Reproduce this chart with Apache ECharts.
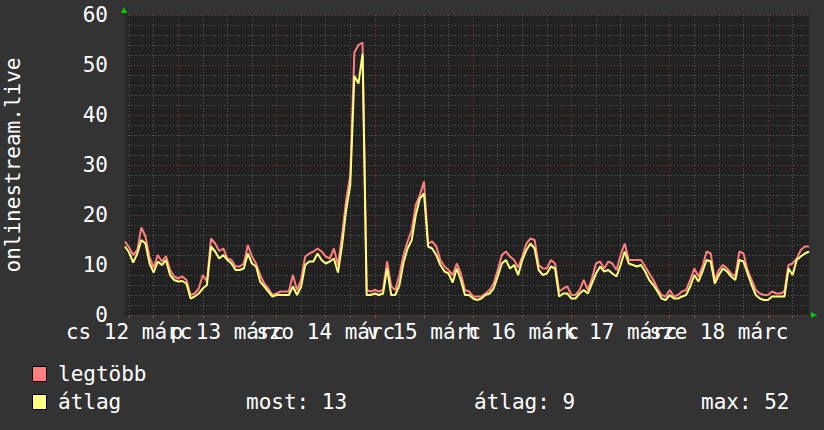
<!DOCTYPE html>
<html>
<head>
<meta charset="utf-8">
<script src="https://cdn.jsdelivr.net/npm/echarts@6/dist/echarts.min.js"></script>
<style>
html,body{margin:0;padding:0;background:#333333;}
#chart{width:824px;height:430px;}
</style>
</head>
<body>
<div id="chart"></div>
<script>
// hourly samples, first sample at 11:00 on márc 12
const startHour = 11;
const dayLabels = ['cs 12 márc', 'p 13 márc', 'szo 14 márc', 'v 15 márc', 'h 16 márc', 'k 17 márc', 'sze 18 márc'];
const yTicks = [0, 10, 20, 30, 40, 50, 60];
const seriesNames = ['legtöbb', 'átlag'];
const statTexts = ['most: 13', 'átlag: 9', 'max: 52'];
const axisTitle = 'onlinestream.live';

const maxVals = [
  14.7, 13.5, 12.0, 13.0, 17.5, 15.7, 11.5, 9.5, 12.0, 10.7,
  11.8, 9.0, 7.7, 7.3, 7.7, 7.0, 4.0, 4.3, 5.3, 8.0,
  6.7, 15.3, 14.3, 12.8, 13.3, 11.3, 11.0, 9.7, 9.7, 10.3,
  14.0, 11.7, 10.3, 8.0, 6.3, 5.3, 4.0, 4.3, 4.7, 4.7,
  4.7, 8.0, 5.0, 7.0, 11.7, 12.3, 12.7, 13.3, 12.7, 11.7,
  11.3, 13.3, 10.0, 16.0, 23.0, 28.0, 52.5, 54.0, 54.5, 5.0,
  4.7, 5.0, 4.7, 5.0, 10.7, 5.7, 5.0, 8.0, 12.0, 14.7,
  17.0, 22.0, 24.0, 26.7, 14.3, 14.7, 13.7, 11.0, 9.7, 9.0,
  8.0, 10.3, 8.3, 5.0, 4.7, 3.7, 3.7, 3.7, 4.3, 5.0,
  6.3, 9.0, 12.0, 12.7, 11.7, 11.0, 9.5, 11.7, 14.3, 15.3,
  15.0, 10.0, 9.3, 9.3, 11.0, 10.3, 4.7, 5.3, 5.7, 4.0,
  4.0, 5.0, 7.0, 5.0, 7.3, 10.3, 10.7, 9.3, 10.7, 10.3,
  9.0, 12.0, 14.3, 11.0, 11.0, 11.0, 11.0, 9.7, 8.3, 7.0,
  5.3, 4.0, 3.7, 5.0, 3.7, 4.0, 4.7, 5.0, 7.0, 9.3,
  7.7, 9.7, 12.7, 12.3, 7.0, 9.0, 10.0, 9.3, 8.3, 7.7,
  12.7, 12.3, 9.0, 7.0, 5.0, 4.3, 4.0, 4.0, 4.7, 4.3,
  4.3, 4.7, 10.0, 10.3, 11.3, 13.0, 13.7, 13.7
];
const avgVals = [
  13.7, 12.5, 10.5, 12.3, 15.0, 14.3, 10.3, 8.5, 10.7, 10.0,
  11.0, 8.0, 7.0, 6.7, 6.8, 6.3, 3.3, 3.7, 4.3, 5.3,
  6.0, 13.7, 12.7, 11.3, 12.0, 11.0, 10.3, 9.0, 9.0, 9.3,
  12.3, 10.3, 9.7, 6.7, 5.7, 4.7, 3.7, 4.0, 4.0, 4.0,
  4.0, 5.7, 4.0, 5.7, 10.0, 10.7, 10.7, 12.3, 11.0, 10.3,
  10.7, 11.3, 8.5, 14.0, 21.0, 26.0, 47.8, 46.3, 52.2, 4.0,
  4.0, 4.3, 4.0, 4.3, 9.3, 4.0, 4.0, 6.0, 10.5, 13.3,
  15.0, 20.0, 23.3, 24.3, 13.7, 13.3, 12.0, 10.0, 8.7, 8.3,
  6.5, 9.3, 7.0, 4.0, 4.0, 3.3, 3.0, 3.3, 4.0, 4.3,
  5.3, 7.7, 10.3, 11.0, 9.3, 10.0, 8.0, 11.0, 13.0, 14.3,
  13.3, 9.0, 8.0, 8.3, 9.7, 9.3, 3.7, 4.3, 4.3, 3.3,
  3.3, 4.3, 5.0, 4.3, 6.3, 8.3, 9.7, 8.7, 9.0, 8.3,
  7.7, 10.0, 12.7, 10.3, 10.0, 9.7, 10.0, 8.7, 7.0, 6.0,
  4.7, 3.3, 3.0, 4.0, 3.3, 3.3, 3.7, 4.0, 5.7, 8.0,
  6.7, 8.7, 11.0, 10.7, 6.3, 8.0, 9.3, 8.7, 7.7, 7.0,
  11.0, 10.7, 8.3, 6.0, 4.0, 3.3, 3.0, 3.0, 3.7, 3.7,
  3.7, 3.7, 9.3, 8.0, 11.0, 11.7, 12.3, 12.7
];

const cats = maxVals.map((_, i) => String(i));
const hourOf = i => (startHour + i) % 24;
const minorFn = i => hourOf(i) % 6 === 0 && hourOf(i) !== 0;
const majorFn = i => hourOf(i) === 0;
const noonFn = i => hourOf(i) === 12;

const font = 'DejaVu Sans Mono';
const fsz = 21;
const chart = echarts.init(document.getElementById('chart'), null, {renderer: 'svg'});
chart.setOption({
  backgroundColor: '#333333',
  animation: false,
  textStyle: {fontFamily: font},
  grid: {left: 125, right: 15, top: 15, bottom: 115, show: true, backgroundColor: '#212121', borderWidth: 0},
  xAxis: [
    {
      type: 'category', data: cats, boundaryGap: false, position: 'bottom',
      axisLine: {show: false},
      axisTick: {show: true, interval: minorFn, length: 3, lineStyle: {color: '#5a5a5a'}},
      axisLabel: {show: false},
      splitLine: {show: true, interval: minorFn, lineStyle: {color: '#5a5a5a', width: 1, type: [1, 2]}}
    },
    {
      type: 'category', data: cats, boundaryGap: false, position: 'bottom',
      axisLine: {show: false},
      axisTick: {show: true, interval: majorFn, length: 3, lineStyle: {color: '#8a4545'}},
      axisLabel: {
        interval: 0, color: '#ffffff', fontFamily: font, fontSize: fsz, margin: 6,
        hideOverlap: false,
        formatter: (v) => {
          const i = Number(v);
          return noonFn(i) ? dayLabels[Math.floor((startHour + i) / 24)] : '';
        }
      },
      splitLine: {show: true, interval: majorFn, lineStyle: {color: '#7a3c3c', width: 1, type: [1, 2]}}
    }
  ],
  yAxis: {
    type: 'value', min: yTicks[0], max: yTicks[yTicks.length - 1], interval: yTicks[1] - yTicks[0],
    axisLine: {show: true, lineStyle: {color: '#2b2b2b', width: 3}},
    axisTick: {show: false},
    axisLabel: {color: '#ffffff', fontFamily: font, fontSize: fsz, margin: 17},
    splitLine: {show: true, lineStyle: {color: '#7a3c3c', width: 1, type: [1, 2]}},
    minorTick: {show: false, splitNumber: 5},
    minorSplitLine: {show: true, lineStyle: {color: '#5a5a5a', width: 1, type: [1, 2]}}
  },
  series: [
    {
      name: seriesNames[0], type: 'line', data: maxVals, xAxisIndex: 1,
      showSymbol: false,
      lineStyle: {color: '#ff7f7f', width: 2}, itemStyle: {color: '#ff7f7f'}
    },
    {
      name: seriesNames[1], type: 'line', data: avgVals, xAxisIndex: 1,
      showSymbol: false,
      lineStyle: {color: '#ffff7f', width: 2}, itemStyle: {color: '#ffff7f'}
    }
  ],
  graphic: [
    {type: 'polygon', shape: {points: [[121, 13], [127, 13], [124, 7]]}, style: {fill: '#00cc00'}},
    {type: 'polygon', shape: {points: [[811, 312], [811, 318], [817, 315]]}, style: {fill: '#00cc00'}},
    {type: 'text', x: 13, y: 165, rotation: Math.PI / 2,
     style: {text: axisTitle, fill: '#ffffff', font: fsz + 'px "DejaVu Sans Mono"', align: 'center', verticalAlign: 'middle'}},
    {type: 'rect', shape: {x: 32.5, y: 366.5, width: 14, height: 15}, style: {fill: '#ff7f7f', stroke: '#000000', lineWidth: 1}},
    {type: 'text', x: 58, y: 374, style: {text: seriesNames[0], fill: '#ffffff', font: fsz + 'px "DejaVu Sans Mono"', verticalAlign: 'middle'}},
    {type: 'rect', shape: {x: 32.5, y: 394.5, width: 14, height: 15}, style: {fill: '#ffff7f', stroke: '#000000', lineWidth: 1}},
    {type: 'text', x: 58, y: 402, style: {text: seriesNames[1], fill: '#ffffff', font: fsz + 'px "DejaVu Sans Mono"', verticalAlign: 'middle'}},
    {type: 'text', x: 246, y: 402, style: {text: statTexts[0], fill: '#ffffff', font: fsz + 'px "DejaVu Sans Mono"', verticalAlign: 'middle'}},
    {type: 'text', x: 474, y: 402, style: {text: statTexts[1], fill: '#ffffff', font: fsz + 'px "DejaVu Sans Mono"', verticalAlign: 'middle'}},
    {type: 'text', x: 701, y: 402, style: {text: statTexts[2], fill: '#ffffff', font: fsz + 'px "DejaVu Sans Mono"', verticalAlign: 'middle'}}
  ]
});
</script>
</body>
</html>
